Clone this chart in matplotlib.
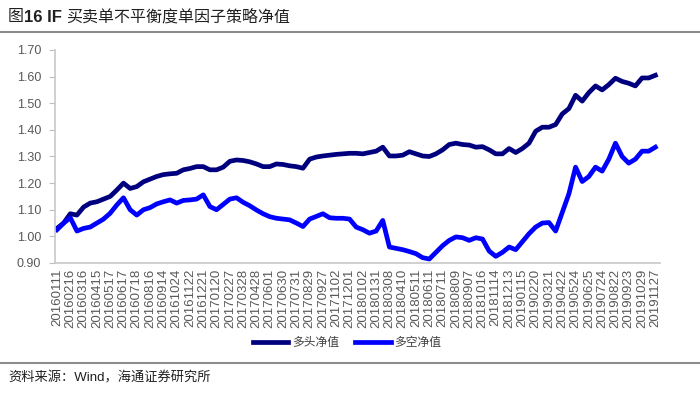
import matplotlib
matplotlib.use("Agg")
import matplotlib.pyplot as plt
from matplotlib.lines import Line2D

plt.rcParams['font.family'] = ['Liberation Sans', 'Noto Sans CJK SC', 'DejaVu Sans']

tick_labels = ["20160111","20160216","20160316","20160415","20160517","20160617","20160718",
               "20160816","20160914","20161024","20161122","20161221","20170120","20170227",
               "20170328","20170428","20170601","20170630","20170731","20170829","20170927",
               "20171102","20171201","20180102","20180131","20180308","20180410","20180511",
               "20180611","20180711","20180809","20180907","20181016","20181114","20181213",
               "20190115","20190220","20190321","20190422","20190524","20190625","20190724",
               "20190822","20190923","20191029","20191127"]

long_nav = [1.03,1.05,1.085,1.08,1.11,1.125,1.13,1.14,1.15,1.174,
            1.20,1.18,1.187,1.205,1.215,1.225,1.232,1.235,1.237,1.25,
            1.255,1.262,1.262,1.25,1.25,1.26,1.282,1.287,1.285,1.28,
            1.272,1.262,1.262,1.272,1.27,1.265,1.262,1.256,1.29,1.298,
            1.302,1.305,1.308,1.31,1.312,1.312,1.31,1.315,1.32,1.335,
            1.302,1.302,1.305,1.318,1.31,1.302,1.30,1.31,1.325,1.345,
            1.35,1.345,1.343,1.335,1.337,1.325,1.31,1.31,1.33,1.315,
            1.33,1.35,1.395,1.41,1.41,1.42,1.46,1.48,1.53,1.508,
            1.54,1.565,1.55,1.57,1.594,1.582,1.575,1.565,1.595,1.595,1.605]

ls_nav = [1.025,1.05,1.07,1.02,1.03,1.035,1.05,1.065,1.087,1.118,
          1.145,1.10,1.08,1.10,1.108,1.122,1.13,1.137,1.125,1.135,
          1.137,1.14,1.156,1.112,1.10,1.12,1.14,1.145,1.128,1.115,
          1.099,1.085,1.074,1.068,1.065,1.062,1.05,1.037,1.065,1.075,
          1.085,1.07,1.068,1.068,1.065,1.035,1.025,1.012,1.02,1.06,
          0.96,0.955,0.95,0.943,0.935,0.92,0.915,0.94,0.965,0.985,
          0.998,0.995,0.985,0.995,0.99,0.945,0.925,0.94,0.96,0.95,
          0.98,1.01,1.035,1.05,1.052,1.02,1.09,1.16,1.26,1.206,
          1.225,1.26,1.245,1.29,1.35,1.30,1.275,1.29,1.32,1.32,1.335]

series_names = ["多头净值", "多空净值"]
colors = ["#00007F", "#0000FF"]

fig = plt.figure(figsize=(7, 3.94), dpi=100)
ax = fig.add_axes([55/700, 1-263/394, 605/700, 213/394])

x = list(range(len(long_nav)))
ax.plot(x, long_nav, color=colors[0], lw=3.4, solid_joinstyle='round')
ax.plot(x, ls_nav, color=colors[1], lw=3.4, solid_joinstyle='round')

ax.set_xlim(-0.3, 90.7)
ax.set_ylim(0.90, 1.70)
yt = [0.90 + 0.1*i for i in range(9)]
ax.set_yticks(yt)
ax.set_yticklabels([f"{v:.2f}" for v in yt], fontsize=9, color="#595959")
ax.set_xticks(list(range(0, 91, 2)))
ax.set_xticklabels(tick_labels, rotation=90, fontsize=9.5, color="#595959")
ax.tick_params(axis='x', length=0, pad=4)
ax.tick_params(axis='y', length=4, color="#bfbfbf", pad=6)
for s in ['top', 'right']:
    ax.spines[s].set_visible(False)
for s in ['left', 'bottom']:
    ax.spines[s].set_color("#c8c8c8")
    ax.spines[s].set_linewidth(1.2)

handles = [Line2D([], [], color=c, lw=3.4) for c in colors]
fig.legend(handles, series_names, loc='center', bbox_to_anchor=(347/700, 1-343/394),
           ncol=2, frameon=False, fontsize=8.5, handlelength=3.0, columnspacing=1.4,
           handletextpad=0.3, labelcolor="#404040")

# title
t1 = fig.text(8/700, 1-17/394, "图", fontsize=11.5, va='center', ha='left', color="#202020")
ann2 = ax.annotate("16 IF ", xy=(1, 0.5), xycoords=t1, va='center', ha='left',
                   fontsize=12, fontweight='bold', color="#202020", annotation_clip=False)
ax.annotate("买卖单不平衡度单因子策略净值", xy=(1, 0.5), xycoords=ann2, va='center',
            ha='left', fontsize=11.5, color="#202020", annotation_clip=False)

fig.add_artist(Line2D([0, 1], [1-31.5/394]*2, color="#8c8c8c", lw=1.5, transform=fig.transFigure))
fig.add_artist(Line2D([0, 1], [1-363/394]*2, color="#8c8c8c", lw=1.5, transform=fig.transFigure))

fig.text(8/700, 1-378/394, "资料来源：Wind，海通证券研究所", fontsize=9.5, va='center',
         ha='left', color="#202020")

fig.savefig("out.png", dpi=100)
